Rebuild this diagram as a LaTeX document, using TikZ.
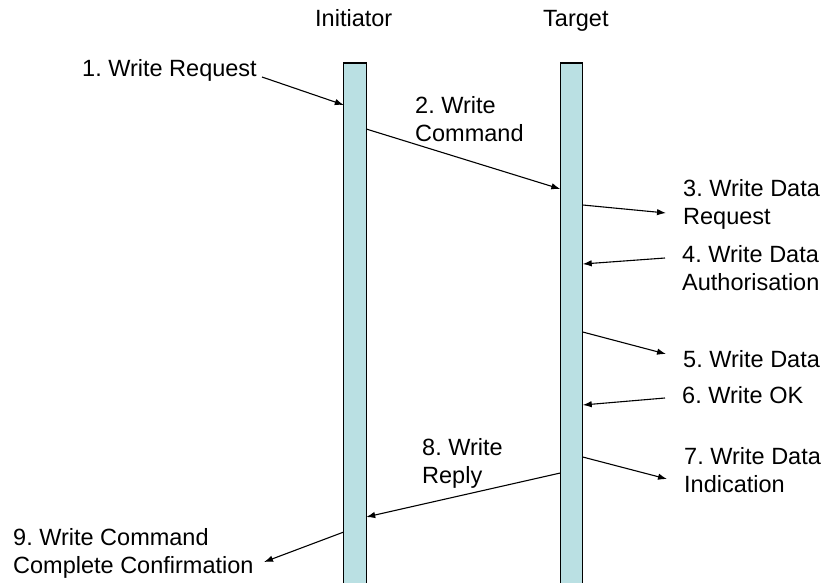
\documentclass[tikz,border=0pt]{standalone}
\usepackage{fontspec}
\setmainfont{Liberation Sans}
\usetikzlibrary{arrows.meta,calc}
\definecolor{lifeline}{RGB}{186,224,227}
\frenchspacing
\begin{document}
\begin{tikzpicture}[x=1pt,y=-1pt,
  % labels are placed by the baseline of their last line
  lbl/.style={anchor=base west, inner sep=0pt, align=left,
    font=\fontsize{23.5}{28}\selectfont},
  msg/.style={line width=1.1pt, -{Latex[length=9pt,width=6.5pt]}},
  bar/.style={fill=lifeline, draw=none, minimum width=22pt,
    minimum height=530pt, inner sep=0pt, anchor=north},
  barline/.style={line width=1.3pt}]
\useasboundingbox (0,0) rectangle (822,583);

% lifelines
\node[bar] (ini) at (355,63) {};
\node[bar] (tgt) at (571.5,63) {};
\draw[barline] (ini.south west) -- (ini.north west) -- (ini.north east) -- (ini.south east);
\draw[barline] (tgt.south west) -- (tgt.north west) -- (tgt.north east) -- (tgt.south east);

% headers
\node[lbl] (hini) at (315,27) {Initiator};
\node[lbl] (htgt) at (543,27) {Target};

% message labels
\node[lbl] (l1) at (82,77) {1. Write Request};
\node[lbl] (l2) at (415,142) {2. Write\\Command};
\node[lbl] (l3) at (683,224) {3. Write Data\\Request};
\node[lbl] (l4) at (682,290) {4. Write Data\\Authorisation};
\node[lbl] (l5) at (683,367) {5. Write Data};
\node[lbl] (l6) at (682,403) {6. Write OK};
\node[lbl] (l7) at (684,492) {7. Write Data\\Indication};
\node[lbl] (l8) at (422,483) {8. Write\\Reply};
\node[lbl] (l9) at (13,573) {9. Write Command\\Complete Confirmation};

% free ends of the messages
\coordinate (f1) at (262,77);
\coordinate (f3) at (666,213);
\coordinate (f4) at (665,258);
\coordinate (f5) at (666,354);
\coordinate (f6) at (665,398);
\coordinate (f7) at (667,479);
\coordinate (f9) at (264,562);

% messages
\draw[msg] (f1) -- ($(ini.north west)+(0,42)$);
\draw[msg] ($(ini.north east)+(0,66)$) -- ($(tgt.north west)+(0,126)$);
\draw[msg] ($(tgt.north east)+(0,142)$) -- (f3);
\draw[msg] (f4) -- ($(tgt.north east)+(0,201)$);
\draw[msg] ($(tgt.north east)+(0,269)$) -- (f5);
\draw[msg] (f6) -- ($(tgt.north east)+(0,342)$);
\draw[msg] ($(tgt.north east)+(0,394)$) -- (f7);
\draw[msg] ($(tgt.north west)+(0,410)$) -- ($(ini.north east)+(0,454)$);
\draw[msg] ($(ini.north west)+(0,469)$) -- (f9);
\end{tikzpicture}
\end{document}
